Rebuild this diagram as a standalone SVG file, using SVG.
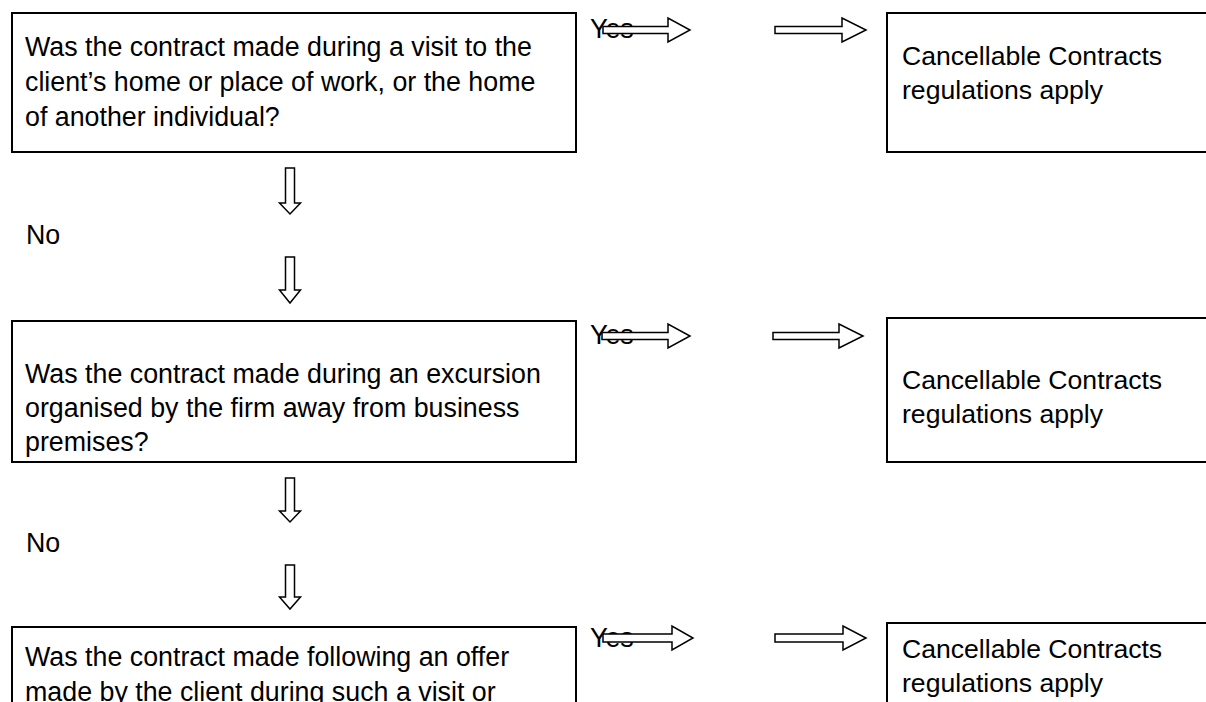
<svg xmlns="http://www.w3.org/2000/svg" width="1206" height="702" viewBox="0 0 1206 702">
<style>
  .box { fill: #fff; stroke: #000; stroke-width: 2; }
  .arr { fill: #fff; stroke: #000; stroke-width: 1.5; stroke-linejoin: miter; }
  .t { font-family: "Liberation Sans", Arial, sans-serif; font-size: 26.8px; fill: #000; }
  .r { font-family: "Liberation Sans", Arial, sans-serif; font-size: 26.6px; fill: #000; }
</style>
<rect width="1206" height="702" fill="#fff"/>

<g id="q1">
  <rect class="box" x="12" y="13" width="564" height="139"/>
  <text class="t" x="25" y="56">Was the contract made during a visit to the</text>
  <text class="t" x="25" y="91">client’s home or place of work, or the home</text>
  <text class="t" x="25" y="126">of another individual?</text>
</g>
<g id="r1">
  <rect class="box" x="887" y="13" width="340" height="139"/>
  <text class="r" x="902" y="65">Cancellable Contracts</text>
  <text class="r" x="902" y="99">regulations apply</text>
</g>

<g id="q2">
  <rect class="box" x="12" y="321" width="564" height="141"/>
  <text class="t" x="25" y="383">Was the contract made during an excursion</text>
  <text class="t" x="25" y="417">organised by the firm away from business</text>
  <text class="t" x="25" y="451">premises?</text>
</g>
<g id="r2">
  <rect class="box" x="887" y="318" width="340" height="144"/>
  <text class="r" x="902" y="389">Cancellable Contracts</text>
  <text class="r" x="902" y="423">regulations apply</text>
</g>

<g id="q3">
  <rect class="box" x="12" y="627" width="564" height="200"/>
  <text class="t" x="25" y="666">Was the contract made following an offer</text>
  <text class="t" x="25" y="701">made by the client during such a visit or</text>
</g>
<g id="r3">
  <rect class="box" x="887" y="623" width="340" height="200"/>
  <text class="r" x="902" y="658">Cancellable Contracts</text>
  <text class="r" x="902" y="692">regulations apply</text>
</g>

<g id="labels">
  <text class="t" x="590" y="38">Yes</text>
  <text class="t" x="590" y="344">Yes</text>
  <text class="t" x="590" y="647">Yes</text>
  <text class="t" x="26" y="244">No</text>
  <text class="t" x="26" y="552">No</text>
</g>

<g id="connectors">
  <path class="arr" d="M603,26.5 H668 V18 L690,30 L668,42 V33.5 H603 Z"/>
  <path class="arr" d="M775,26.5 H842 V18 L866,30 L842,42 V33.5 H775 Z"/>
  <path class="arr" d="M602,332.5 H668 V324 L690,336 L668,348 V339.5 H602 Z"/>
  <path class="arr" d="M773,332.5 H839 V324 L863,336 L839,348 V339.5 H773 Z"/>
  <path class="arr" d="M603,634 H672 V626 L693,638 L672,650 V642 H603 Z"/>
  <path class="arr" d="M775,634 H843 V626 L866,638 L843,650 V642 H775 Z"/>

  <path class="arr" d="M285.5,168 V203 H279.5 L290,214 L300.5,203 H294.5 V168 Z"/>
  <path class="arr" d="M285.5,257 V290 H279.5 L290,303 L300.5,290 H294.5 V257 Z"/>
  <path class="arr" d="M285.5,478 V511 H279.5 L290,522 L300.5,511 H294.5 V478 Z"/>
  <path class="arr" d="M285.5,565 V597 H279.5 L290,609 L300.5,597 H294.5 V565 Z"/>
</g>
</svg>
